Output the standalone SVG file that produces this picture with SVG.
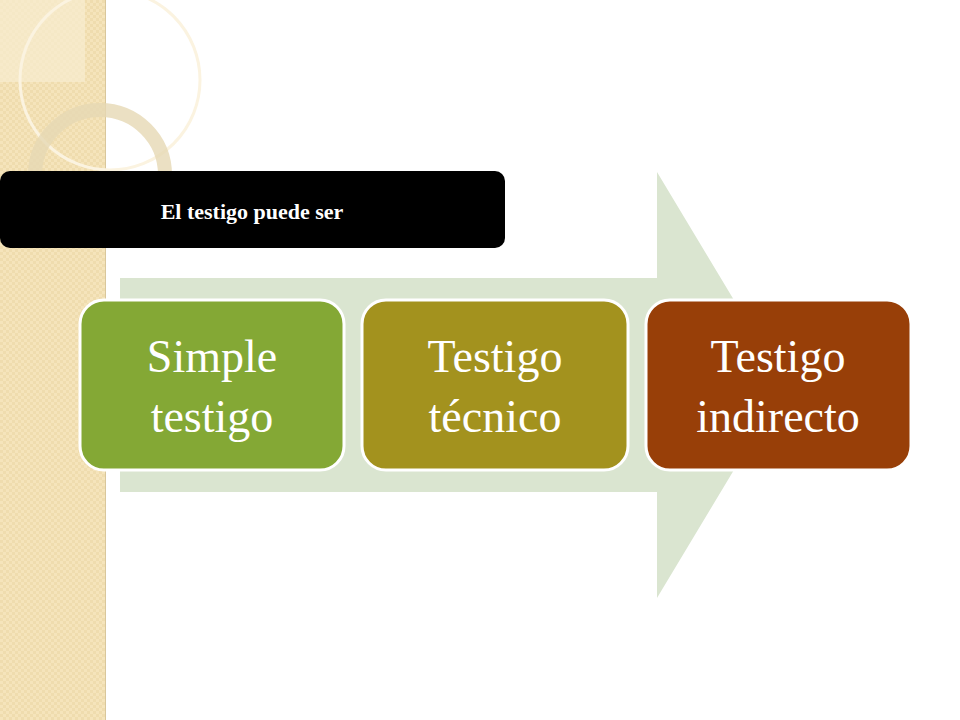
<svg xmlns="http://www.w3.org/2000/svg" width="960" height="720" viewBox="0 0 960 720">
<defs>
<pattern id="chk" width="6" height="6" patternUnits="userSpaceOnUse"><rect width="6" height="6" fill="#f5e4bb"/><rect width="3" height="3" fill="#efdcae"/><rect x="3" y="3" width="3" height="3" fill="#efdcae"/></pattern>
<style>
.box{stroke:#fff;stroke-width:3}
.t{font-family:"Liberation Serif",serif;font-size:46px;fill:#fff;text-anchor:middle}
</style>
</defs>
<rect width="960" height="720" fill="#fff"/>
<g id="sidebar">
<rect x="0" y="0" width="106" height="720" fill="url(#chk)"/>
<line x1="105.5" y1="0" x2="105.5" y2="720" stroke="#d9c79b" stroke-width="1"/>
<rect x="0" y="0" width="85" height="82" fill="#f8ecd0" opacity="0.7"/>
<circle cx="110" cy="80" r="90" fill="none" stroke="#fbf3e0" stroke-width="3"/>
<circle cx="100" cy="175" r="65" fill="none" stroke="#e6d8b4" stroke-width="14" opacity="0.8"/>
</g>
<g id="arrow">
<polygon points="120,278 657,278 657,172 785,385 657,598 657,492 120,492" fill="#dae5d0"/>
</g>
<g id="label">
<rect x="0" y="171" width="505" height="77" rx="10" fill="#000"/>
<text x="252" y="219" font-family="Liberation Serif,serif" font-size="22" font-weight="bold" fill="#fff" text-anchor="middle">El testigo puede ser</text>
</g>
<g id="n1">
<rect class="box" x="80" y="300" width="264" height="170" rx="24" fill="#84a835"/>
<text class="t" x="212" y="372">Simple</text><text class="t" x="212" y="432">testigo</text>
</g>
<g id="n2">
<rect class="box" x="362" y="300" width="266" height="170" rx="24" fill="#a3921e"/>
<text class="t" x="495" y="372">Testigo</text><text class="t" x="495" y="432">técnico</text>
</g>
<g id="n3">
<rect class="box" x="646" y="300" width="265" height="170" rx="24" fill="#983f08"/>
<text class="t" x="778" y="372">Testigo</text><text class="t" x="778" y="432">indirecto</text>
</g>
<g id="connectors"/>
</svg>
